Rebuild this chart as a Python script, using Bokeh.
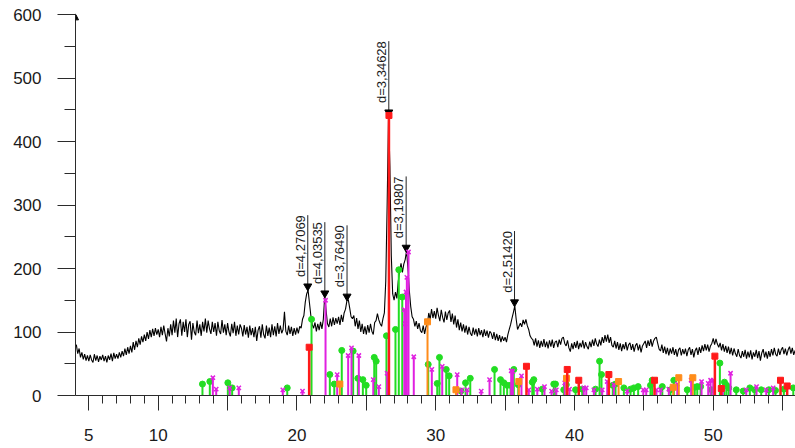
import numpy as np
from bokeh.plotting import figure
from bokeh.models import Range1d, FixedTicker, ColumnDataSource, Arrow, NormalHead
from bokeh.embed import file_html
from bokeh.resources import INLINE
from bokeh.core.properties import value

# ---------------- data ----------------
scan_start = 4.1   # degrees 2-theta
scan_step = 0.1
scan_counts = [
    80, 66, 74, 60, 68, 57, 65, 55, 63,
    54, 64, 56, 52, 65, 55, 63, 53, 62, 56,
    64, 54, 62, 52, 63, 56, 66, 54, 67, 58,
    65, 58, 68, 60, 70, 62, 74, 64, 76, 66,
    78, 68, 84, 72, 86, 76, 90, 80, 93, 84,
    96, 86, 100, 89, 103, 92, 105, 94, 106, 96,
    104, 92, 108, 95, 110, 97, 85, 106, 93, 112,
    95, 118, 99, 121, 92, 113, 120, 94, 116, 100,
    120, 92, 112, 117, 88, 114, 100, 95, 118, 98,
    112, 94, 116, 101, 121, 99, 118, 105, 97, 116,
    100, 114, 94, 116, 102, 97, 119, 99, 112, 95,
    114, 100, 93, 113, 98, 116, 94, 110, 96, 112,
    106, 93, 111, 96, 108, 91, 110, 95, 106, 92,
    108, 86, 103, 109, 91, 112, 96, 90, 110, 94,
    107, 92, 112, 95, 109, 93, 114, 97, 110, 98,
    104, 132, 101, 95, 110, 97, 108, 94, 106, 96,
    107, 98, 109, 106, 120, 126, 147, 160, 166, 146,
    126, 112, 106, 115, 101, 113, 103, 116, 105, 120,
    156, 134, 113, 108, 121, 109, 123, 111, 122, 113,
    124, 111, 127, 116, 130, 136, 149, 151, 138, 124,
    121, 126, 109, 122, 105, 118, 100, 113, 97, 109,
    96, 111, 99, 113, 101, 96, 115, 118, 129, 119,
    113, 109, 121, 130, 180, 300, 441, 360, 220, 160,
    150, 163, 153, 180, 196, 208, 194, 207, 214, 228,
    200, 165, 140, 124, 120, 109, 117, 105, 114, 102,
    99, 110, 97, 108, 113, 130, 120, 136, 122, 133,
    121, 138, 126, 117, 135, 123, 115, 132, 119, 130,
    134, 116, 129, 112, 126, 107, 120, 103, 115, 101,
    112, 99, 110, 96, 108, 98, 94, 107, 96, 105,
    93, 106, 95, 103, 92, 104, 94, 102, 91, 101,
    98, 89, 100, 87, 97, 86, 95, 84, 93, 86,
    92, 84, 96, 104, 112, 122, 131, 141, 120, 104,
    109, 114, 108, 119, 112, 120, 110, 104, 94, 90,
    88, 79, 90, 77, 87, 75, 86, 77, 89, 76,
    85, 74, 87, 77, 88, 75, 84, 86, 76, 88,
    80, 90, 92, 82, 78, 87, 75, 69, 82, 73,
    84, 75, 86, 73, 83, 76, 87, 74, 84, 77,
    73, 85, 76, 88, 78, 90, 81, 77, 88, 79,
    92, 83, 95, 85, 96, 83, 92, 79, 76, 86,
    74, 84, 72, 82, 70, 81, 73, 84, 71, 80,
    83, 72, 81, 69, 79, 82, 71, 80, 68, 78,
    82, 86, 75, 87, 78, 89, 77, 86, 90, 92,
    82, 73, 70, 80, 67, 77, 65, 75, 63, 74,
    66, 76, 64, 73, 61, 72, 75, 63, 73, 65,
    74, 62, 72, 76, 64, 73, 60, 71, 75, 64,
    76, 67, 79, 70, 81, 71, 80, 69, 78, 82,
    90, 80, 89, 81, 76, 83, 71, 81, 69, 78,
    67, 77, 65, 75, 63, 74, 66, 61, 73, 63,
    59, 70, 61, 72, 58, 69, 60, 71, 57, 68,
    61, 72, 59, 70, 55, 67, 73, 60, 69, 58,
    70, 61, 73, 63, 75, 65, 62, 74, 64, 72,
    76, 65, 74, 63, 72, 77, 66, 75, 64, 71,
]

# labelled peaks
peak_2theta = [20.78, 22.01, 23.61, 26.62, 27.87, 35.68]
peak_counts = [167, 156, 151, 441, 228, 142]
peak_labels = ["d=4,27069", "d=4,03535", "d=3,76490", "d=3,34628", "d=3,19807", "d=2,51420"]

# reference phase sticks
quartz_2theta = [20.88, 26.63, 36.54, 39.48, 40.31, 42.48, 45.77, 50.12, 50.58, 54.85, 55.33]
quartz_int = [76, 441, 46, 41, 24, 33, 24, 62, 11, 24, 15]

calcite_2theta = [23.09, 29.41, 31.46, 35.99, 39.43, 43.18, 47.12, 47.52, 48.53]
calcite_int = [18, 116, 9, 22, 27, 22, 13, 28, 28]

green_2theta = [13.19, 13.72, 15.02, 15.33, 19.30, 21.05, 22.37, 22.69, 23.23, 24.05,
                24.39, 24.75, 24.99, 25.57, 25.71, 26.45, 27.10, 27.34, 27.59, 29.46,
                30.11, 30.27, 30.76, 30.97, 31.82, 32.15, 32.49, 34.24, 34.67, 34.91,
                35.15, 35.39, 35.63, 35.95, 36.96, 37.07, 37.68, 38.51, 38.63, 39.23,
                39.41, 40.08, 40.56, 41.52, 41.81, 41.95, 42.76, 42.96, 43.56, 44.04,
                44.28, 44.59, 45.48, 45.60, 46.33, 46.92, 47.16, 48.13, 48.67, 48.85,
                49.09, 49.88, 50.48, 50.81, 50.96, 51.12, 51.66, 52.16, 52.64, 52.98,
                53.46, 54.01, 54.49, 55.09, 55.77]
green_int = [18, 22, 20, 12, 12, 120, 33, 18, 71, 70,
             27, 25, 16, 60, 54, 94, 104, 198, 155, 49,
             19, 60, 41, 31, 7, 20, 27, 41, 25, 20,
             16, 16, 41, 17, 21, 25, 10, 18, 18, 9,
             17, 9, 10, 10, 54, 33, 16, 18, 12, 10,
             12, 14, 16, 24, 14, 9, 24, 9, 13, 14,
             14, 9, 51, 21, 16, 12, 9, 7, 12, 9,
             9, 9, 8, 10, 12]

magenta_2theta = [13.94, 14.18, 15.16, 15.81, 18.98, 20.40, 22.06, 22.90, 23.69, 23.93,
                  24.46, 25.50, 25.90, 26.50, 27.74, 27.80, 27.86, 27.92, 28.04, 28.42,
                  29.72, 30.47, 31.55, 31.86, 32.27, 33.28, 33.88, 35.44, 35.56, 36.18,
                  36.71, 37.32, 37.84, 38.35, 38.69, 39.30, 39.64, 40.67, 40.85, 41.40,
                  42.00, 42.36, 42.84, 43.80, 44.96, 45.17, 45.91, 46.20, 46.80, 47.41,
                  48.41, 49.16, 49.64, 49.81, 50.00, 50.69, 51.25, 52.38, 53.12, 53.82,
                  54.32]
magenta_int = [28, 10, 12, 12, 9, 7, 150, 33, 63, 75,
               63, 25, 14, 35, 135, 113, 163, 186, 226, 61,
               41, 46, 33, 9, 9, 7, 25, 39, 38, 31,
               9, 10, 14, 7, 9, 20, 10, 12, 12, 9,
               9, 22, 17, 7, 9, 9, 9, 9, 10, 18,
               24, 22, 19, 24, 24, 10, 35, 9, 14, 9,
               12]

x_ticks_major = [5, 10, 15, 20, 25, 30, 35, 40, 45, 50, 55]
x_tick_labels = {5: "5", 10: "10", 15: "", 20: "20", 25: "", 30: "30", 35: "",
                 40: "40", 45: "", 50: "50", 55: ""}
y_ticks_major = [0, 100, 200, 300, 400, 500, 600]

# ---------------- figure ----------------
x_lo, x_hi = 4.04, 55.93
y_lo, y_hi = 0, 600

p = figure(width=795, height=448, output_backend="svg", toolbar_location=None,
           x_range=Range1d(x_lo, x_hi), y_range=Range1d(y_lo, y_hi),
           min_border_left=75, min_border_right=0, min_border_top=14,
           min_border_bottom=53)
p.outline_line_color = None
p.grid.visible = False
p.background_fill_color = "white"
p.border_fill_color = "white"

FONT = "Liberation Sans"
AX = "#2b2b2b"

xa = p.xaxis[0]
xa.ticker = FixedTicker(ticks=x_ticks_major, minor_ticks=list(range(4, 57)))
xa.major_label_overrides = x_tick_labels
xa.major_tick_out = 15
xa.major_tick_in = 0
xa.minor_tick_out = 8
xa.minor_tick_in = 0
xa.major_label_standoff = 18
xa.axis_line_color = AX
xa.major_tick_line_color = AX
xa.minor_tick_line_color = AX
xa.major_label_text_font = FONT
xa.major_label_text_font_size = "17px"
xa.major_label_text_color = "#1a1a1a"

ya = p.yaxis[0]
ya.ticker = FixedTicker(ticks=y_ticks_major, minor_ticks=[50, 150, 250, 350, 450, 550])
ya.major_tick_out = 18
ya.major_tick_in = 0
ya.minor_tick_out = 11
ya.minor_tick_in = 0
ya.major_label_standoff = 16
ya.axis_line_color = AX
ya.major_tick_line_color = AX
ya.minor_tick_line_color = AX
ya.major_label_text_font = FONT
ya.major_label_text_font_size = "17px"
ya.major_label_text_color = "#1a1a1a"

# scan
two_theta = np.round(scan_start + scan_step * np.arange(len(scan_counts)), 3)
p.line(two_theta, scan_counts, line_color="black", line_width=1.1)

# peak annotations
leader = 117
psrc = ColumnDataSource(dict(
    x=peak_2theta, y=peak_counts,
    ytop=[c + leader for c in peak_counts],
    ytri=[c + 5 for c in peak_counts],
    label=peak_labels))
p.segment(x0="x", y0="y", x1="x", y1="ytop", source=psrc, line_color="#222222", line_width=1)
p.scatter("x", "ytri", source=psrc, marker="inverted_triangle", size=8,
          fill_color="black", line_color="black")
p.text(x="x", y="ytop", text="label", source=psrc, angle=np.pi / 2,
       text_align="right", text_baseline="bottom", x_offset=0,
       text_font=value(FONT), text_font_size="13px", text_color="#1a1a1a")

# phase sticks
def sticks(xs, ys, color, marker, lw, size):
    src = ColumnDataSource(dict(x=xs, y=ys, y0=[0] * len(xs)))
    p.segment(x0="x", y0="y0", x1="x", y1="y", source=src, line_color=color, line_width=lw)
    if marker == "x":
        p.scatter("x", "y", source=src, marker="x", size=size, line_color=color, line_width=1.5)
    else:
        p.scatter("x", "y", source=src, marker=marker, size=size, fill_color=color, line_color=color)

sticks(green_2theta, green_int, "#22dd22", "circle", 2, 6)
sticks(magenta_2theta, magenta_int, "#e020e0", "x", 2, 6)
sticks(calcite_2theta, calcite_int, "#ff8c1a", "square", 2, 6)
sticks(quartz_2theta, quartz_int, "#ff1a1a", "square", 2.5, 6)

# y-axis arrow tip
p.add_layout(Arrow(end=NormalHead(size=6, fill_color="black", line_color="black"),
                   x_start=x_lo, y_start=y_hi - 8, x_end=x_lo, y_end=y_hi + 1,
                   line_color=AX, line_width=1))

open("out.html", "w").write(file_html(p, INLINE))
